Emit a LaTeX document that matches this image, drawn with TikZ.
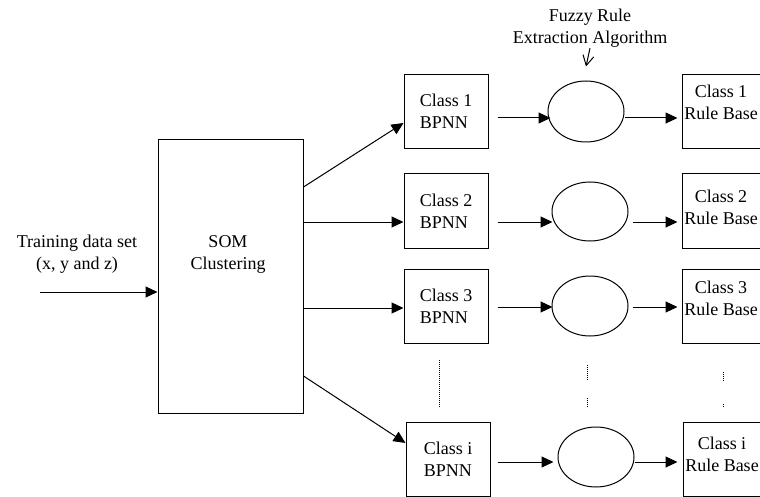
\documentclass[tikz,border=0pt]{standalone}
\usepackage{fontspec}
\setmainfont{Liberation Serif}
\usetikzlibrary{arrows.meta,shapes.geometric,calc}
\begin{document}
\begin{tikzpicture}[x=1pt,y=-1pt,line width=1pt,
  every node/.style={font=\fontsize{18}{22}\selectfont, inner sep=0pt},
  txt/.style={align=center},
  bpnn/.style={draw, rectangle, minimum width=84pt, minimum height=74pt, align=left},
  rulebox/.style={draw, rectangle, minimum width=90pt, minimum height=74pt},
  oval/.style={draw, ellipse, minimum width=76pt, minimum height=60pt},
  arr/.style={-{Triangle[length=12pt,width=11pt]}},
  barb/.style={-{Straight Barb[length=10pt,width=11pt]}},
  dots/.style={dash pattern=on 1pt off 1pt}]
\useasboundingbox (0,0) rectangle (760,497);
% input and SOM
\node[txt] (train) at (77,254) {Training data set\\(x, y and z)};
\node[draw, rectangle, minimum width=145pt, minimum height=273pt] (som) at (230.5,276.5) {};
\node[txt] (somt) at (228,254) {SOM\\Clustering};
\coordinate (in) at (40,292);
\draw[arr] (in) -- (in -| som.west);
% fuzzy label
\node[txt] (fz) at (590,28.5) {Fuzzy Rule\\Extraction Algorithm};
% BPNN boxes
\node[bpnn] (b1) at (446,111.5) {Class 1\\BPNN};
\node[bpnn] (b2) at (446,211) {Class 2\\BPNN};
\node[bpnn] (b3) at (446,306) {Class 3\\BPNN};
\node[bpnn] (bi) at (448,459) {Class i\\BPNN};
% ellipses
\node[oval, minimum height=61pt] (e1) at (586,111.5) {};
\node[oval, minimum height=59pt] (e2) at (590,211.5) {};
\node[oval] (e3) at (590,306) {};
\node[oval] (ei) at (596,457) {};
% rule boxes
\node[rulebox] (r1) at (727,111.5) {};
\node[rulebox] (r2) at (727,211) {};
\node[rulebox] (r3) at (727,306) {};
\node[rulebox] (ri) at (728,459) {};
\node[txt] (r1t) at (721,102.5) {Class 1\\Rule Base};
\node[txt] (r2t) at (721,207.5) {Class 2\\Rule Base};
\node[txt] (r3t) at (721,298.5) {Class 3\\Rule Base};
\node[txt] (rit) at (722,454) {Class i\\Rule Base};
% fuzzy arrow
\draw[barb] (fz.south) -- ([yshift=14pt]e1.north);
% SOM to BPNN
\draw[arr] (som.east |- 0,187) -- (b1.west |- 0,123);
\draw[arr] (som.east |- 0,222) -- (b2.west |- 0,222);
\draw[arr] (som.east |- 0,308) -- (b3.west |- 0,308);
\draw[arr] (som.east |- 0,376) -- (bi.west |- 0,443);
% row arrows
\draw[arr] ([xshift=9pt]b1.east |- 0,118) -- ([xshift=3pt]e1.west |- 0,118);
\draw[arr] (e1.east |- 0,118) -- ([xshift=-4pt]r1.west |- 0,118);
\draw[arr] ([xshift=9pt]b2.east |- 0,222) -- ([xshift=1pt]e2.west |- 0,222);
\draw[arr] ([xshift=4pt]e2.east |- 0,222) -- ([xshift=-4pt]r2.west |- 0,222);
\draw[arr] ([xshift=9pt]b3.east |- 0,307) -- ([xshift=1pt]e3.west |- 0,307);
\draw[arr] ([xshift=4pt]e3.east |- 0,307) -- ([xshift=-4pt]r3.west |- 0,307);
\draw[arr] ([xshift=7pt]bi.east |- 0,462) -- ([xshift=-4pt]ei.west |- 0,462);
\draw[arr] (ei.east |- 0,462) -- ([xshift=-5pt]ri.west |- 0,462);
% ellipsis dots
\draw[dots] (439,360) -- (439,408);
\draw[dots] (587,365) -- (587,381);
\draw[dots] (587,398) -- (587,408);
\draw[dots] (723,372) -- (723,382);
\draw[dots] (723,404) -- (723,408);
\end{tikzpicture}
\end{document}
